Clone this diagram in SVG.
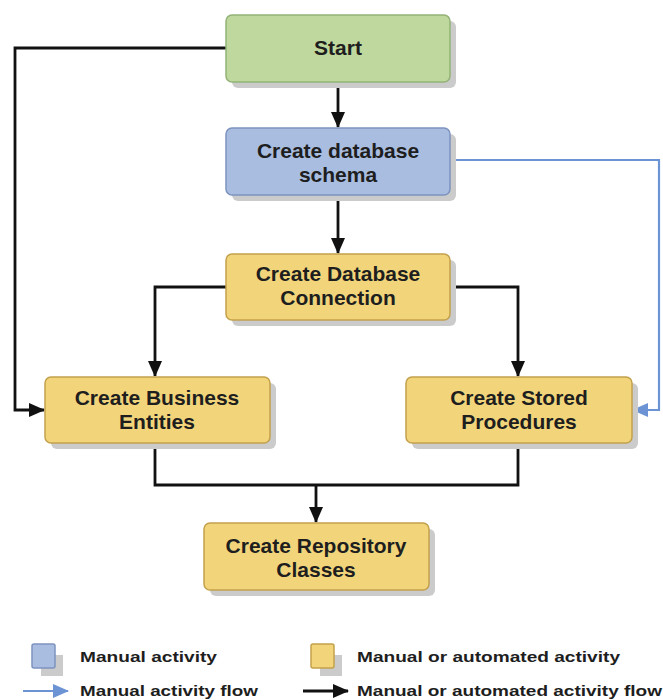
<svg xmlns="http://www.w3.org/2000/svg" width="663" height="700" viewBox="0 0 663 700">
<defs>
<marker id="ab" markerWidth="16" markerHeight="16" refX="15" refY="8" orient="auto" markerUnits="userSpaceOnUse"><path d="M0,1 L16,8 L0,15 Z" fill="#111"/></marker>
<marker id="au" markerWidth="16" markerHeight="16" refX="15" refY="8" orient="auto" markerUnits="userSpaceOnUse"><path d="M0,1 L16,8 L0,15 Z" fill="#6c93d4"/></marker>
</defs>
<style>
.sh{fill:#cbcbcb}
.g{fill:#bfd89d;stroke:#93b277;stroke-width:1.5}
.b{fill:#a8bde0;stroke:#7d93bf;stroke-width:1.5}
.y{fill:#f2d57b;stroke:#c3a14c;stroke-width:1.5}
.t{font-family:"Liberation Sans",Arial,sans-serif;font-weight:bold;font-size:21px;fill:#1e1e1e;text-anchor:middle}
.l{font-family:"Liberation Sans",Arial,sans-serif;font-weight:bold;font-size:15px;fill:#1e1e1e}
.k{fill:none;stroke:#111;stroke-width:2.8}
.u{fill:none;stroke:#6c93d4;stroke-width:2.2}
</style>
<g id="connectors">
<path class="k" d="M226,48 H15 V410 H44" marker-end="url(#ab)"/>
<path class="u" d="M450,160 H659 V410 H633" marker-end="url(#au)"/>
<path class="k" d="M338,82 V127" marker-end="url(#ab)"/>
<path class="k" d="M338,195 V253" marker-end="url(#ab)"/>
<path class="k" d="M226,287 H155 V376" marker-end="url(#ab)"/>
<path class="k" d="M450,287 H518 V376" marker-end="url(#ab)"/>
<path class="k" d="M155,443 V485 H518 V443"/>
<path class="k" d="M316,485 V522" marker-end="url(#ab)"/>
</g>
<g id="start">
<rect class="sh" x="232" y="21" width="224" height="67" rx="6"/>
<rect class="g" x="226" y="15" width="224" height="67" rx="6"/>
<text class="t" x="338" y="55">Start</text>
</g>
<g id="schema">
<rect class="sh" x="232" y="134" width="224" height="67" rx="6"/>
<rect class="b" x="226" y="128" width="224" height="67" rx="6"/>
<text class="t" x="338" y="158">Create database</text>
<text class="t" x="338" y="182">schema</text>
</g>
<g id="connection">
<rect class="sh" x="232" y="260" width="224" height="66" rx="6"/>
<rect class="y" x="226" y="254" width="224" height="66" rx="6"/>
<text class="t" x="338" y="281">Create Database</text>
<text class="t" x="338" y="305">Connection</text>
</g>
<g id="business">
<rect class="sh" x="51" y="383" width="225" height="66" rx="6"/>
<rect class="y" x="45" y="377" width="225" height="66" rx="6"/>
<text class="t" x="157" y="405">Create Business</text>
<text class="t" x="157" y="429">Entities</text>
</g>
<g id="stored">
<rect class="sh" x="412" y="383" width="226" height="66" rx="6"/>
<rect class="y" x="406" y="377" width="226" height="66" rx="6"/>
<text class="t" x="519" y="405">Create Stored</text>
<text class="t" x="519" y="429">Procedures</text>
</g>
<g id="repository">
<rect class="sh" x="210" y="529" width="225" height="67" rx="6"/>
<rect class="y" x="204" y="523" width="225" height="67" rx="6"/>
<text class="t" x="316" y="553">Create Repository</text>
<text class="t" x="316" y="577">Classes</text>
</g>
<g id="legend">
<rect class="sh" x="41" y="655" width="22" height="21"/>
<rect class="b" x="32" y="644" width="23" height="24" rx="2"/>
<text class="l" x="80" y="662" textLength="137" lengthAdjust="spacingAndGlyphs">Manual activity</text>
<rect class="sh" x="320" y="655" width="22" height="21"/>
<rect class="y" x="311" y="644" width="23" height="24" rx="2"/>
<text class="l" x="357" y="662" textLength="263" lengthAdjust="spacingAndGlyphs">Manual or automated activity</text>
<path class="u" d="M23,691 H68" marker-end="url(#au)"/>
<text class="l" x="80" y="696" textLength="178" lengthAdjust="spacingAndGlyphs">Manual activity flow</text>
<path class="k" d="M303,691 H348" marker-end="url(#ab)"/>
<text class="l" x="357" y="696" textLength="305" lengthAdjust="spacingAndGlyphs">Manual or automated activity flow</text>
</g>
</svg>
